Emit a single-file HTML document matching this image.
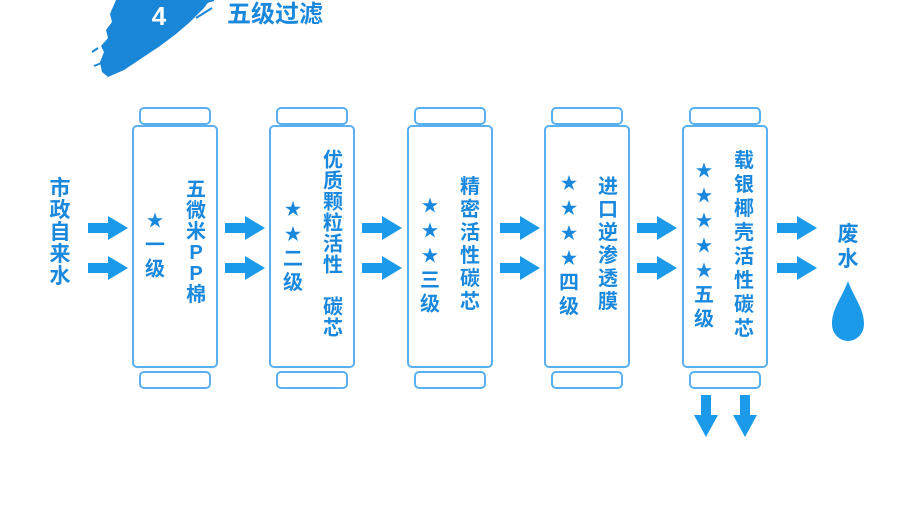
<!DOCTYPE html>
<html><head><meta charset="utf-8"><style>
body{margin:0;width:900px;height:520px;background:#fff;position:relative;overflow:hidden;font-family:"Liberation Sans","Noto Sans CJK SC",sans-serif;}
.a{position:absolute}
.body{position:absolute;top:125px;width:86px;height:243px;border:2px solid #5ab0ee;border-radius:5px;box-sizing:border-box}
.cap{position:absolute;width:72px;height:18px;border:2px solid #5ab0ee;border-radius:5px;box-sizing:border-box}
.col{position:absolute;width:26px;text-align:center;color:#1a88dd;font-weight:bold;font-size:20px;line-height:24px;transform:translateY(-50%);top:245px}
.col .s{font-size:17px}
</style></head><body>
<svg class="a" style="left:0;top:0" width="900" height="520">
<defs><g id="ar"><path d="M0,-5 H20 V-12 L40,0 L20,12 V5 H0 Z" fill="#1a9ae8"/></g>
<g id="dn"><path d="M-5,0 V20 H-12 L0,42 L12,20 H5 V0 Z" fill="#1a9ae8"/></g></defs>
<path d="M116,0 L210,0 L204,8 L190,22 L176,34 L160,46 L142,58 L124,70 L108,77 L102,72 L100,62 L104,52 L101,46 L108,38 L106,30 L112,22 L110,14 Z" fill="#1a86d8"/>
<path d="M98,48 L92,52 M104,62 L94,66 M196,18 L212,8 M200,4 L214,0" stroke="#1a86d8" stroke-width="2"/>
<text x="159" y="25" font-size="26" font-weight="bold" fill="#fff" text-anchor="middle" font-family="Liberation Sans">4</text>
<text x="227" y="22" font-size="24" font-weight="bold" fill="#1a88dd" font-family="Liberation Sans,Noto Sans CJK SC,sans-serif">五级过滤</text>
<use href="#ar" x="88" y="228"/><use href="#ar" x="88" y="268"/>
<use href="#ar" x="225" y="228"/><use href="#ar" x="225" y="268"/>
<use href="#ar" x="362" y="228"/><use href="#ar" x="362" y="268"/>
<use href="#ar" x="500" y="228"/><use href="#ar" x="500" y="268"/>
<use href="#ar" x="637" y="228"/><use href="#ar" x="637" y="268"/>
<use href="#ar" x="777" y="228"/><use href="#ar" x="777" y="268"/>
<use href="#dn" x="706" y="395"/><use href="#dn" x="745" y="395"/>
<path d="M848,281 C842,298 832,308 832,324 C832,334 840,341 848,341 C856,341 864,334 864,324 C864,308 854,298 848,281 Z" fill="#1a9ae8"/>
</svg>
<div class="col" style="left:47px;top:233px;font-size:21px;line-height:22px">市<br>政<br>自<br>来<br>水</div>
<div class="col" style="left:835px;top:247px;font-size:21px;line-height:25px">废<br>水</div>

<div class="cap" style="left:139px;top:107px"></div><div class="body" style="left:132px"></div><div class="cap" style="left:139px;top:371px"></div>
<div class="cap" style="left:276px;top:107px"></div><div class="body" style="left:269px"></div><div class="cap" style="left:276px;top:371px"></div>
<div class="cap" style="left:414px;top:107px"></div><div class="body" style="left:407px"></div><div class="cap" style="left:414px;top:371px"></div>
<div class="cap" style="left:551px;top:107px"></div><div class="body" style="left:544px"></div><div class="cap" style="left:551px;top:371px"></div>
<div class="cap" style="left:689px;top:107px"></div><div class="body" style="left:682px"></div><div class="cap" style="left:689px;top:371px"></div>

<div class="col" style="left:142px;top:245px"><span class="s">★</span><br>一<br>级</div>
<div class="col" style="left:183px;top:243px;line-height:21px">五<br>微<br>米<br>P<br>P<br>棉</div>
<div class="col" style="left:280px;top:246px"><span class="s">★</span><br><span class="s">★</span><br>二<br>级</div>
<div class="col" style="left:320px;top:245px;line-height:21px">优<br>质<br>颗<br>粒<br>活<br>性<br>&nbsp;<br>碳<br>芯</div>
<div class="col" style="left:417px;top:255px"><span class="s">★</span><br><span class="s">★</span><br><span class="s">★</span><br>三<br>级</div>
<div class="col" style="left:457px;top:245px;line-height:23px">精<br>密<br>活<br>性<br>碳<br>芯</div>
<div class="col" style="left:556px;top:245px"><span class="s">★</span><br><span class="s">★</span><br><span class="s">★</span><br><span class="s">★</span><br>四<br>级</div>
<div class="col" style="left:595px;top:245px;line-height:23px">进<br>口<br>逆<br>渗<br>透<br>膜</div>
<div class="col" style="left:691px;top:245px"><span class="s">★</span><br><span class="s">★</span><br><span class="s">★</span><br><span class="s">★</span><br><span class="s">★</span><br>五<br>级</div>
<div class="col" style="left:731px;top:245px;line-height:24px">载<br>银<br>椰<br>壳<br>活<br>性<br>碳<br>芯</div>
</body></html>
